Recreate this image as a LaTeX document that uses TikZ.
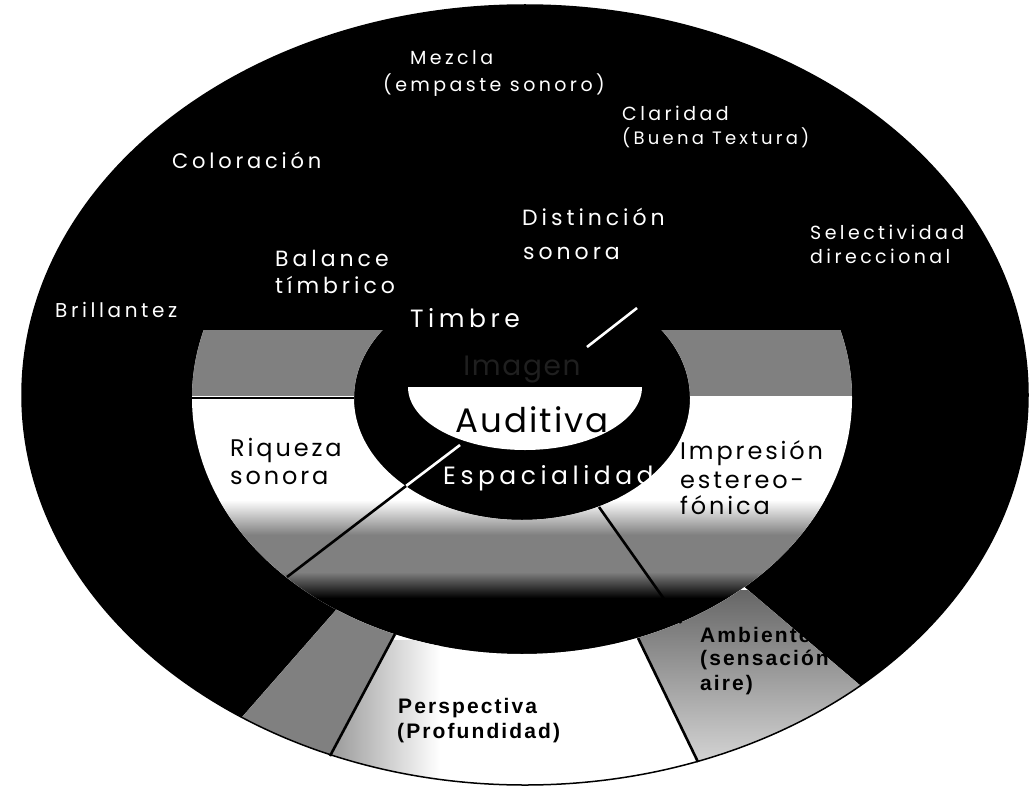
\documentclass[tikz,border=0pt]{standalone}
\usepackage{fontspec}
\setmainfont{Poppins}
\newfontfamily\wlab[LetterSpace=18]{Poppins}
\newfontfamily\blab[LetterSpace=12]{Poppins}
\newfontfamily\alab[LetterSpace=6]{Poppins}
\newfontfamily\hlab[LetterSpace=10]{Liberation Sans}
\begin{document}
\begin{tikzpicture}[x=1pt,y=-1pt,
  wt/.style={text=white,font={\wlab\fontsize{#1}{#1}\selectfont},anchor=west,inner sep=0pt},
  bt/.style={text=black,font={\blab\fontsize{#1}{#1}\selectfont},anchor=west,inner sep=0pt},
  ht/.style={text=black,font={\hlab\bfseries\fontsize{#1}{#1}\selectfont},anchor=west,inner sep=0pt},
  divider/.style={draw=black,line width=2.6pt},
  wline/.style={draw=white,line width=2.6pt},
  halftone/.style={fill=black!50}]
\fill[white] (0,0) rectangle (1033,789);
\useasboundingbox (0,0) rectangle (1033,789);
\coordinate (C) at (522,398);
\coordinate (O) at (525,395);
% outer black disc
\fill[black] (O) ellipse [x radius=503pt, y radius=390pt];
% middle ring
\begin{scope}[even odd rule]
  \clip (C) ellipse [x radius=330pt, y radius=256pt] (C) ellipse [x radius=168pt, y radius=122pt];
  \clip (0,330) rectangle (1033,789);
  \fill[white] (0,330) rectangle (1033,789);
  \fill[halftone] (0,330) rectangle (1033,396);
  \shade[top color=white, bottom color=black!50] (0,500) rectangle (1033,535);
  \fill[halftone] (0,535) rectangle (1033,572);
  \shade[top color=black!50, bottom color=black] (0,572) rectangle (1033,598);
  \fill[black] (0,598) rectangle (1033,700);
\end{scope}
% lower part of the outer ring
\begin{scope}[even odd rule]
  \clip (O) ellipse [x radius=503pt, y radius=390pt] (C) ellipse [x radius=330pt, y radius=256pt];
  \clip (C) -- (-178,1196) -- (1322,1196) -- (1322,1078) -- cycle;
  \fill[white] (0,560) rectangle (1033,789);
  \fill[halftone] (C) -- (-178,1196) -- (22,1328) -- cycle;
  \begin{scope}
    \clip (C) -- (22,1328) -- (1022,1433) -- cycle;
    \shade[left color=black!40, right color=white] (330,640) rectangle (440,789);
  \end{scope}
  \begin{scope}
    \clip (C) -- (1022,1433) -- (1322,1078) -- cycle;
    \shade[top color=black!60, bottom color=black!15] (600,590) rectangle (900,770);
  \end{scope}
\end{scope}
\draw[line width=1.5pt] (O) ellipse [x radius=503pt, y radius=390pt];
% central white bowl
\begin{scope}
  \clip (0,387) rectangle (1033,789);
  \fill[white] (525,387) ellipse [x radius=117pt, y radius=63pt];
\end{scope}
% radial lines
\coordinate (h1) at (192,398);
\coordinate (h2) at (354,398);
\coordinate (dl0) at (460,445);
\coordinate (dl1) at (406,486);
\coordinate (dl2) at (287,577);
\coordinate (dr1) at (599,507);
\coordinate (dr2) at (681,623);
\coordinate (ur1) at (587,347);
\coordinate (ur2) at (637,308);
\coordinate (ll1) at (395,634);
\coordinate (ll2) at (330,756);
\coordinate (lr1) at (638,638);
\coordinate (lr2) at (698,762);
\draw[divider] (h1) -- (h2);
\draw[wline] (dl0) -- (dl1);
\draw[divider] (dl1) -- (dl2);
\draw[divider] (dr1) -- (dr2);
\draw[wline] (ur1) -- (ur2);
\draw[divider] (ll1) -- (ll2);
\draw[divider] (lr1) -- (lr2);
% texts
\node[wt=19pt] (mez1) at (410,58) {Mezcla};
\node[wt=19pt] (mez2) at (383,85) {(empaste sonoro)};
\node[wt=19pt] (cla1) at (622,113) {Claridad};
\node[wt=18pt] (cla2) at (622,138) {(Buena Textura)};
\node[wt=21pt] (col) at (172,160) {Coloración};
\node[wt=22pt] (dis1) at (522,217) {Distinción};
\node[wt=22pt] (dis2) at (523,253) {sonora};
\node[wt=19pt] (sel1) at (810,232) {Selectividad};
\node[wt=19pt] (sel2) at (810,256) {direccional};
\node[wt=22pt] (bal1) at (275,258) {Balance};
\node[wt=22pt] (bal2) at (275,285) {tímbrico};
\node[wt=20pt] (bri) at (55,310) {Brillantez};
\node[wt=25pt] (tim) at (410,318) {Timbre};
\node[text=black!88,font={\alab\fontsize{28pt}{28pt}\selectfont},inner sep=0pt] (ima) at (522,370) {Imagen};
\node[text=black,font={\alab\fontsize{34pt}{34pt}\selectfont},inner sep=0pt] (aud) at (532,420) {Auditiva};
\node[wt=25pt] (esp) at (443,478) {Espacialidad};
\node[bt=24pt] (riq1) at (230,450) {Riqueza};
\node[bt=24pt] (riq2) at (230,478) {sonora};
\node[bt=24pt] (imp1) at (680,453) {Impresión};
\node[bt=24pt] (imp2) at (680,480) {estereo-};
\node[bt=24pt] (imp3) at (680,505) {fónica};
\node[ht=21pt] (per1) at (398,708) {Perspectiva};
\node[ht=21pt] (per2) at (397,733) {(Profundidad)};
\node[ht=21pt] (amb1) at (700,635) {Ambiente};
\node[ht=21pt] (amb2) at (700,660) {(sensación};
\node[ht=21pt] (amb3) at (700,685) {aire)};
\end{tikzpicture}
\end{document}
